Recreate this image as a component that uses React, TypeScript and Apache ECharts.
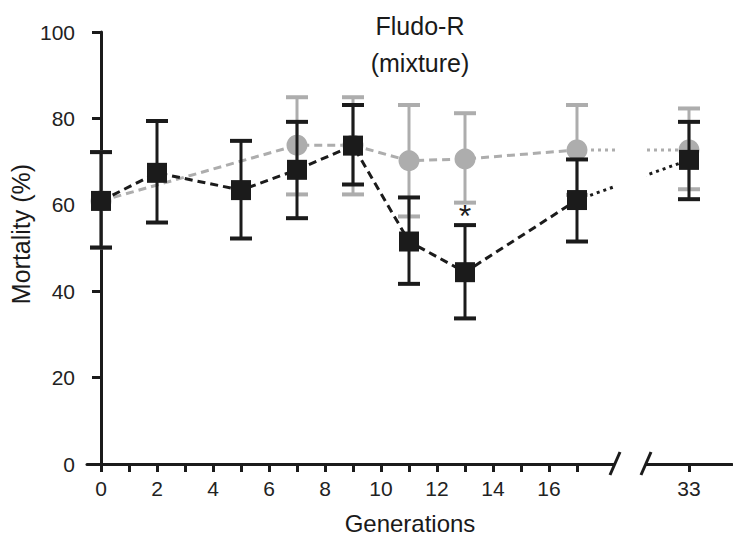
import React, { useEffect, useRef } from "react";
import * as echarts from "echarts";

// ---- data ----
const blackGens = [0, 2, 5, 7, 9, 11, 13, 17, 33];
const blackMean = [60.9, 67.4, 63.4, 68.1, 73.7, 51.5, 44.4, 61.1, 70.4];
const blackHigh = [72.2, 79.4, 74.8, 79.2, 83.1, 61.7, 55.3, 70.5, 79.2];
const blackLow = [50.1, 55.9, 52.2, 56.9, 64.7, 41.7, 33.7, 51.5, 61.3];

const grayGens = [0, 7, 9, 11, 13, 17, 33];
const grayMean = [60.9, 73.8, 73.8, 70.2, 70.6, 72.7, 72.7];
const grayHigh = [72.2, 84.9, 84.9, 83.1, 81.2, 83.1, 82.3];
const grayLow = [50.1, 62.4, 62.4, 57.3, 60.5, 62.3, 63.6];

const xTickValues = [0, 1, 2, 3, 4, 5, 6, 7, 8, 9, 10, 11, 12, 13, 14, 15, 16, 17, 33];
const xLabelValues = [0, 2, 4, 6, 8, 10, 12, 14, 16, 33];
const yTicks = { min: 0, max: 100, interval: 20 };

const titleText = "Fludo-R\n(mixture)";
const xName = "Generations";
const yName = "Mortality (%)";
const significantGen = 13;

// after the axis break, generation 33 is drawn at this axis position
const BREAK_GEN = 33;
const BREAK_POS = 21;
const pos = (g: number) => (g === BREAK_GEN ? BREAK_POS : g);

const FONT = "Liberation Sans, Arial, Helvetica, sans-serif";
const BLACK = "#1b1b1b";
const GRAY = "#adadad";

function errorBar(color: string, capHalf: number) {
  return (params: any, api: any) => {
    const x = api.value(0);
    const lo = api.coord([x, api.value(1)]);
    const hi = api.coord([x, api.value(2)]);
    return {
      type: "group",
      children: [
        { type: "line", shape: { x1: lo[0], y1: lo[1], x2: hi[0], y2: hi[1] }, style: { stroke: color, lineWidth: 3 } },
        { type: "line", shape: { x1: hi[0] - capHalf, y1: hi[1], x2: hi[0] + capHalf, y2: hi[1] }, style: { stroke: color, lineWidth: 4 } },
        { type: "line", shape: { x1: lo[0] - capHalf, y1: lo[1], x2: lo[0] + capHalf, y2: lo[1] }, style: { stroke: color, lineWidth: 4 } },
      ],
    };
  };
}

export default function App() {
  const ref = useRef<HTMLDivElement>(null);
  useEffect(() => {
    if (!ref.current) return;
    const chart = echarts.init(ref.current, null, { renderer: "svg" });

    const bPts = blackGens.map((g, i) => [pos(g), blackMean[i]]);
    const gPts = grayGens.map((g, i) => [pos(g), grayMean[i]]);
    const bMainEnd = blackGens.indexOf(17);
    const gMainEnd = grayGens.indexOf(17);
    const sigIdx = blackGens.indexOf(significantGen);

    chart.setOption({
      animation: false,
      backgroundColor: "#ffffff",
      grid: { left: 87, right: 1, top: 32, bottom: 79 },
      xAxis: {
        type: "value",
        min: -0.5,
        max: 22.536,
        splitLine: { show: false },
        axisLine: { lineStyle: { color: BLACK, width: 3 } },
        axisTick: {
          show: true,
          length: 8,
          lineStyle: { color: BLACK, width: 3 },
          customValues: xTickValues.map(pos),
        },
        axisLabel: {
          customValues: xLabelValues.map(pos),
          formatter: (v: number) => (v === BREAK_POS ? String(BREAK_GEN) : String(v)),
          fontSize: 21,
          color: "#222",
          fontFamily: FONT,
          margin: 14,
        },
      },
      yAxis: {
        type: "value",
        min: yTicks.min,
        max: yTicks.max,
        interval: yTicks.interval,
        splitLine: { show: false },
        axisLine: { show: true, lineStyle: { color: BLACK, width: 3 } },
        axisTick: { show: true, length: 9, lineStyle: { color: BLACK, width: 3 } },
        axisLabel: { fontSize: 21, color: "#222", fontFamily: FONT, margin: 12 },
      },
      graphic: [
        { type: "rect", z: 50, shape: { x: 615, y: 28, width: 31, height: 440 }, style: { fill: "#ffffff" } },
        { type: "line", z: 51, shape: { x1: 610, y1: 475, x2: 620, y2: 452 }, style: { stroke: BLACK, lineWidth: 3 } },
        { type: "line", z: 51, shape: { x1: 641, y1: 475, x2: 651, y2: 452 }, style: { stroke: BLACK, lineWidth: 3 } },
        {
          type: "text",
          z: 51,
          x: 420,
          y: 7,
          style: { text: titleText, align: "center", verticalAlign: "top", fontSize: 25, lineHeight: 37, fontFamily: FONT, fill: "#1a1a1a" },
        },
        {
          type: "text",
          z: 51,
          x: 410,
          y: 523,
          style: { text: xName, align: "center", verticalAlign: "middle", fontSize: 24, fontFamily: FONT, fill: "#1a1a1a" },
        },
        {
          type: "text",
          z: 51,
          x: 21,
          y: 234,
          rotation: Math.PI / 2,
          style: { text: yName, align: "center", verticalAlign: "middle", fontSize: 25, fontFamily: FONT, fill: "#1a1a1a" },
        },
      ],
      series: [
        {
          type: "line",
          z: 2,
          data: gPts.slice(0, gMainEnd + 1),
          showSymbol: false,
          lineStyle: { color: GRAY, width: 3, type: [8, 5] },
        },
        {
          type: "line",
          z: 2,
          data: gPts.slice(gMainEnd),
          showSymbol: false,
          lineStyle: { color: GRAY, width: 3, type: [3, 4] },
        },
        {
          type: "custom",
          z: 3,
          renderItem: errorBar(GRAY, 11),
          encode: { x: 0, y: [1, 2] },
          data: grayGens.map((g, i) => [pos(g), grayLow[i], grayHigh[i]]),
        },
        {
          type: "scatter",
          z: 4,
          symbol: "circle",
          symbolSize: 21,
          itemStyle: { color: GRAY, opacity: 1 },
          data: gPts,
        },
        {
          type: "line",
          z: 5,
          data: bPts.slice(0, bMainEnd + 1),
          showSymbol: false,
          lineStyle: { color: BLACK, width: 3, type: [8, 5] },
        },
        {
          type: "line",
          z: 5,
          data: bPts.slice(bMainEnd),
          showSymbol: false,
          lineStyle: { color: BLACK, width: 3, type: [3, 4] },
        },
        {
          type: "custom",
          z: 6,
          renderItem: errorBar(BLACK, 11),
          encode: { x: 0, y: [1, 2] },
          data: blackGens.map((g, i) => [pos(g), blackLow[i], blackHigh[i]]),
        },
        {
          type: "scatter",
          z: 7,
          symbol: "rect",
          symbolSize: 20,
          itemStyle: { color: BLACK, opacity: 1 },
          data: bPts,
        },
        {
          type: "scatter",
          z: 8,
          symbolSize: 1,
          itemStyle: { color: "#ffffff", opacity: 0 },
          data: [[pos(significantGen), blackHigh[sigIdx]]],
          label: {
            show: true,
            formatter: "*",
            position: "top",
            distance: -7,
            fontSize: 32,
            fontFamily: FONT,
            color: BLACK,
            opacity: 1,
          },
        },
      ],
    });
    return () => chart.dispose();
  }, []);
  return <div ref={ref} style={{ position: "absolute", left: 0, top: 0, width: 733, height: 543 }} />;
}
